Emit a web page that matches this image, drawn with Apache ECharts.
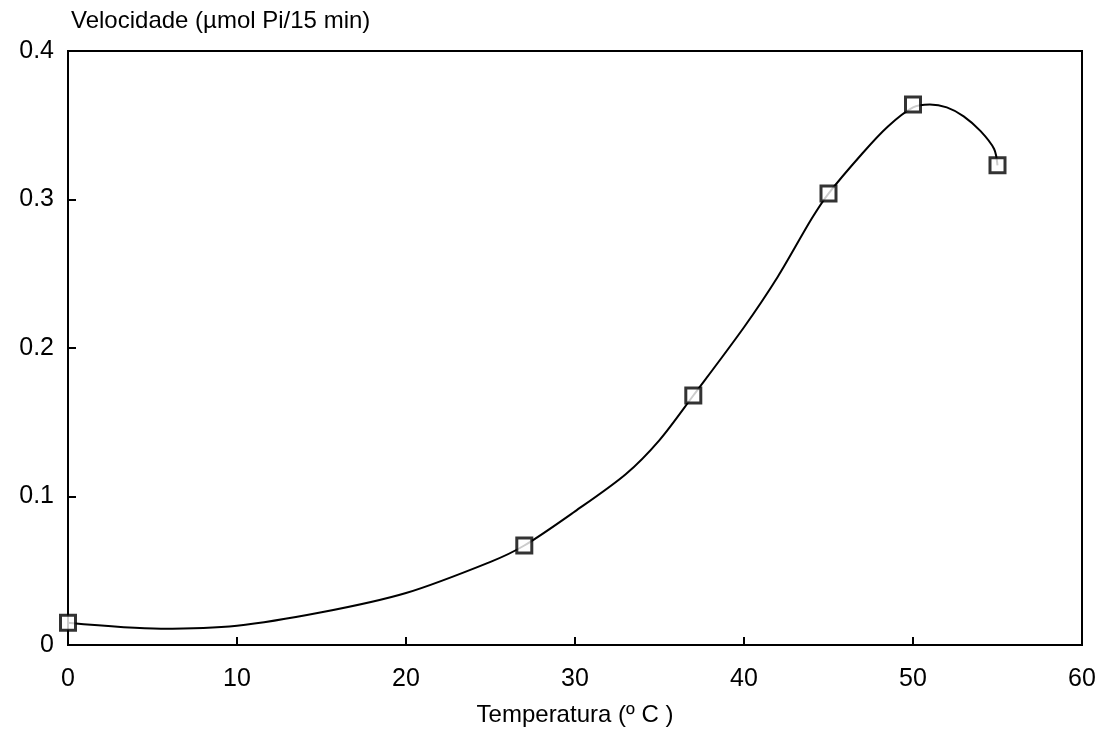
<!DOCTYPE html>
<html>
<head>
<meta charset="utf-8">
<script src="https://cdn.jsdelivr.net/npm/echarts@6/dist/echarts.min.js"></script>
<style>
  html, body { margin: 0; padding: 0; background: #fff; }
  #chart { width: 1102px; height: 732px; }
</style>
</head>
<body>
<div id="chart"></div>
<script>
// pontos medidos
const tempPoints = [0, 27, 37, 45, 50, 55]
const velPoints = [0.015, 0.067, 0.168, 0.304, 0.364, 0.323]
// curva ajustada
const tempCurve = [0, 5.5, 10, 15, 20, 25, 27, 30, 33, 35, 37, 40, 42, 44, 45, 47, 48.5, 50, 51, 52, 53, 54, 54.8, 55]
const velCurve = [0.015, 0.011, 0.013, 0.022, 0.035, 0.056, 0.067, 0.090, 0.115, 0.138, 0.168, 0.214, 0.248, 0.287, 0.304, 0.331, 0.349, 0.362, 0.364, 0.362, 0.356, 0.346, 0.334, 0.323]
const xTicks = [0, 10, 20, 30, 40, 50, 60]
const yTicks = [0, 0.1, 0.2, 0.3, 0.4]

const font = 'Liberation Sans, Arial, sans-serif'
const chart = echarts.init(document.getElementById('chart'))

chart.setOption({
  animation: false,
  backgroundColor: '#fff',
  title: {
    text: 'Velocidade (µmol Pi/15 min)',
    left: 66,
    top: 4,
    textStyle: { color: '#000', fontSize: 24, fontWeight: 'normal', fontFamily: font }
  },
  grid: {
    left: 68,
    right: 20,
    top: 51,
    bottom: 86,
    show: true,
    borderColor: '#000',
    borderWidth: 2
  },
  xAxis: {
    type: 'value',
    min: xTicks[0],
    max: xTicks[xTicks.length - 1],
    interval: 10,
    name: 'Temperatura (º C )',
    nameLocation: 'middle',
    nameGap: 58,
    nameTextStyle: { color: '#000', fontSize: 24, fontFamily: font },
    axisLine: { lineStyle: { color: '#000', width: 2 } },
    axisTick: { inside: true, length: 8, lineStyle: { color: '#000', width: 2 } },
    axisLabel: { color: '#000', fontSize: 25, fontFamily: font, margin: 22 },
    splitLine: { show: false }
  },
  yAxis: {
    type: 'value',
    min: yTicks[0],
    max: yTicks[yTicks.length - 1],
    interval: 0.1,
    axisLine: { show: true, lineStyle: { color: '#000', width: 2 } },
    axisTick: { show: true, inside: true, length: 8, lineStyle: { color: '#000', width: 2 } },
    axisLabel: { color: '#000', fontSize: 25, fontFamily: font, margin: 14 },
    splitLine: { show: false }
  },
  series: [
    {
      type: 'line',
      data: tempCurve.map((t, i) => [t, velCurve[i]]),
      smooth: 0.3,
      showSymbol: false,
      lineStyle: { color: '#000', width: 2 },
      z: 2
    },
    {
      type: 'scatter',
      data: tempPoints.map((t, i) => [t, velPoints[i]]),
      symbol: 'rect',
      symbolSize: 15,
      itemStyle: { color: '#fff', borderColor: '#000', borderWidth: 3 },
      z: 3
    }
  ]
})
</script>
</body>
</html>
